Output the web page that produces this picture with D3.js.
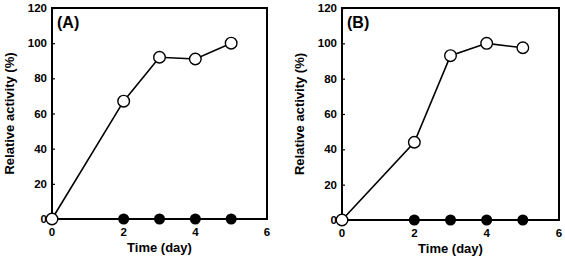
<!DOCTYPE html>
<html>
<head>
<meta charset="utf-8">
<script src="https://cdn.jsdelivr.net/npm/d3@7"></script>
<style>
  body { margin: 0; background: #fff; }
  svg { display: block; font-family: "Liberation Sans", Arial, sans-serif; }
</style>
</head>
<body>
<svg id="chart"></svg>
<script>
// Data
const days = [0, 2, 3, 4, 5];
const controlDays = [2, 3, 4, 5];
const openA = [0, 67, 92, 91, 100];
const openB = [0, 44, 93, 100, 97.5];
const filledA = [0, 0, 0, 0];
const filledB = [0, 0, 0, 0];
const xTicks = [0, 2, 4, 6];
const yTicks = [0, 20, 40, 60, 80, 100, 120];

const width = 565;
const height = 265;

const svg = d3.select("#chart")
    .attr("width", width)
    .attr("height", height)
    .attr("viewBox", [0, 0, width, height]);

const panels = [
    {label: "(A)", left: 52, right: 267, top: 8, bottom: 219, open: openA, filled: filledA},
    {label: "(B)", left: 342, right: 559, top: 8, bottom: 220, open: openB, filled: filledB}
];

panels.forEach(p => {
    const x = d3.scaleLinear().domain([0, 6]).range([p.left, p.right]);
    const y = d3.scaleLinear().domain([0, 120]).range([p.bottom, p.top]);
    const g = svg.append("g");

    // inner tick marks on y axis
    g.append("g")
        .attr("transform", `translate(${p.left},0)`)
        .call(d3.axisRight(y).tickValues(yTicks).tickSize(3).tickFormat(""))
        .call(g => g.select(".domain").remove())
        .call(g => g.selectAll("line").attr("stroke", "#000").attr("stroke-width", 1.2));

    // tick labels
    g.append("g")
        .selectAll("text")
        .data(yTicks)
        .join("text")
        .attr("x", p.left - 5)
        .attr("y", d => y(d))
        .attr("dy", "0.35em")
        .attr("text-anchor", "end")
        .attr("font-size", 11.5)
        .attr("font-weight", "bold")
        .text(d => d);

    g.append("g")
        .selectAll("text")
        .data(xTicks)
        .join("text")
        .attr("x", d => x(d))
        .attr("y", p.bottom + 17)
        .attr("text-anchor", "middle")
        .attr("font-size", 11.5)
        .attr("font-weight", "bold")
        .text(d => d);

    // frame
    g.append("rect")
        .attr("x", p.left)
        .attr("y", p.top)
        .attr("width", p.right - p.left)
        .attr("height", p.bottom - p.top)
        .attr("fill", "none")
        .attr("stroke", "#000")
        .attr("stroke-width", 2);

    const line = d3.line().x(d => x(d[0])).y(d => y(d[1]));

    g.append("path")
        .datum(controlDays.map((d, i) => [d, p.filled[i]]))
        .attr("d", line)
        .attr("fill", "none")
        .attr("stroke", "#000")
        .attr("stroke-width", 2);

    g.append("path")
        .datum(days.map((d, i) => [d, p.open[i]]))
        .attr("d", line)
        .attr("fill", "none")
        .attr("stroke", "#000")
        .attr("stroke-width", 1.6);

    g.append("g")
        .selectAll("circle")
        .data(controlDays.map((d, i) => [d, p.filled[i]]))
        .join("circle")
        .attr("cx", d => x(d[0]))
        .attr("cy", d => y(d[1]))
        .attr("r", 5.5)
        .attr("fill", "#000");

    g.append("g")
        .selectAll("circle")
        .data(days.map((d, i) => [d, p.open[i]]))
        .join("circle")
        .attr("cx", d => x(d[0]))
        .attr("cy", d => y(d[1]))
        .attr("r", 5.8)
        .attr("fill", "#fff")
        .attr("stroke", "#000")
        .attr("stroke-width", 1.4);

    g.append("text")
        .attr("x", p.left + 5)
        .attr("y", p.top + 20)
        .attr("font-size", 16)
        .attr("font-weight", "bold")
        .text(p.label);

    g.append("text")
        .attr("x", (p.left + p.right) / 2)
        .attr("y", p.bottom + 33)
        .attr("text-anchor", "middle")
        .attr("font-size", 13)
        .attr("font-weight", "bold")
        .text("Time (day)");

    g.append("text")
        .attr("transform", `translate(${p.left - 38},${(p.top + p.bottom) / 2}) rotate(-90)`)
        .attr("text-anchor", "middle")
        .attr("font-size", 13)
        .attr("font-weight", "bold")
        .text("Relative activity (%)");
});
</script>
</body>
</html>
